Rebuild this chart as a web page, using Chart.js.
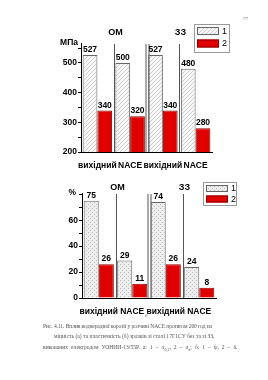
<!DOCTYPE html>
<html lang="uk">
<head>
<meta charset="UTF-8">
<title>NACE</title>
<style>
  body { margin: 0; background: #fff; }
  #page { position: relative; width: 268px; height: 380px; overflow: hidden; font-family: "Liberation Serif", serif; color: #555; }
  .box { position: absolute; left: 0; width: 268px; }
  .cap { position: absolute; white-space: nowrap; font-size: 5.6px; line-height: 7px; color: #555; }
</style>
</head>
<body>
<div id="page">
  <div class="cap" style="left:243px; top:15px; font-size:5px;">77</div>
  <div class="box" style="top:0; height:175px;"><canvas id="chartA" width="268" height="175"></canvas></div>
  <div class="cap" style="left:144px; top:162px; font-size:5px;">а</div>
  <div class="box" style="top:176px; height:145px;"><canvas id="chartB" width="268" height="145"></canvas></div>
  <div class="cap" style="left:145px; top:312px; font-size:5px;">б</div>
  <div class="cap" id="c1" style="left:43px; top:323px; letter-spacing:-0.1px;">Рис. 4.11. Вплив воднерадної корозії у розчині NACE протягом 200 год на</div>
  <div class="cap" id="c2" style="left:54px; top:333px;">міцність (а) та пластичність (б) зразків зі сталі 17Г1СУ без та зі ЗЗ,</div>
  <div class="cap" id="c3" style="left:43px; top:344px; word-spacing:1.6px;">виконаних електродом УОНИИ-13/55Р. а: 1 – σ<sub style="font-size:4px">0,2</sub>, 2 – σ<sub style="font-size:4px">в</sub>; б: 1 – ψ, 2 – δ.</div>
</div>

<script src="https://cdn.jsdelivr.net/npm/chart.js"></script>
<script>
// ---- data ----
const labels = ['вихідний', 'NACE', 'вихідний', 'NACE'];
const strength1 = [527, 500, 527, 480];   // а: 1
const strength2 = [340, 320, 340, 280];   // а: 2
const plastic1 = [75, 29, 74, 24];        // б: 1
const plastic2 = [26, 11, 26, 8];         // б: 2
const groupNames = ['ОМ', 'ЗЗ'];
const legendNames = ['1', '2'];

const FONT = "'Liberation Sans', Arial, sans-serif";
const RED = '#e10000';

function makePattern(kind) {
    const c = document.createElement('canvas');
    c.width = 4; c.height = 4;
    const g = c.getContext('2d');
    g.fillStyle = kind === 'diag' ? '#f7f7f7' : '#ededed';
    g.fillRect(0, 0, 4, 4);
    g.fillStyle = kind === 'diag' ? '#cfcfcf' : '#bdbdbd';
    if (kind === 'diag') {
        g.fillRect(3, 0, 1, 1); g.fillRect(2, 1, 1, 1); g.fillRect(1, 2, 1, 1); g.fillRect(0, 3, 1, 1);
    } else {
        g.fillRect(0, 0, 1, 1); g.fillRect(2, 2, 1, 1);
    }
    return g.createPattern(c, 'repeat');
}

// separators, group titles, value labels, legend, unit
function decorPlugin(opt) {
    return {
        id: 'decor',
        afterDatasetsDraw(chart) {
            const c = chart.ctx, x = chart.scales.x, a = chart.chartArea;
            c.save();
            // separators between categories
            c.strokeStyle = '#555';
            c.lineWidth = 1;
            for (let i = 1; i < labels.length; i++) {
                const bx = Math.round((x.getPixelForValue(i - 1) + x.getPixelForValue(i)) / 2) + 0.5;
                const offs = i === 2 ? [-1.5, 1.5] : [0];
                offs.forEach(o => {
                    c.beginPath();
                    c.moveTo(bx + o, a.bottom);
                    c.lineTo(bx + o, a.top + 1);
                    c.stroke();
                });
                if (i === 1 || i === 3) {
                    c.fillStyle = '#000';
                    c.font = 'bold 9px ' + FONT;
                    c.textAlign = 'center';
                    c.textBaseline = 'middle';
                    c.fillText(groupNames[i === 1 ? 0 : 1], bx + 1, a.top - opt.titleGap);
                }
            }
            // value labels
            c.fillStyle = '#000';
            c.font = 'bold 8.5px ' + FONT;
            c.textAlign = 'center';
            c.textBaseline = 'bottom';
            chart.data.datasets.forEach((ds, di) => {
                chart.getDatasetMeta(di).data.forEach((bar, k) => {
                    c.fillText(ds.data[k], bar.x, bar.y - 1);
                });
            });
            // unit
            c.font = 'bold 8.5px ' + FONT;
            c.textAlign = 'right';
            c.textBaseline = 'middle';
            c.fillText(opt.unit, opt.unitX, a.top);
            // legend
            const L = opt.legend;
            c.strokeStyle = '#999';
            c.strokeRect(L.x + 0.5, L.y + 0.5, L.w, L.h);
            chart.data.datasets.forEach((ds, di) => {
                const sy = L.y + L.pad + di * L.step;
                c.fillStyle = ds.backgroundColor;
                c.fillRect(L.x + 3, sy, L.sw, L.sh);
                c.strokeStyle = ds.borderColor;
                c.strokeRect(L.x + 3.5, sy + 0.5, L.sw - 1, L.sh - 1);
                c.fillStyle = '#000';
                c.font = '9px ' + FONT;
                c.textAlign = 'left';
                c.textBaseline = 'middle';
                c.fillText(legendNames[di], L.x + L.sw + 6, sy + L.sh / 2 + 0.5);
            });
            c.restore();
        }
    };
}

function build(id, d1, d2, pat, yMin, yMax, major, minor, padTop, padRight, yWidth, xHeight, opt) {
    const ticks = [];
    for (let v = yMin; v <= yMax; v += minor) ticks.push({ value: v });
    new Chart(document.getElementById(id), {
        type: 'bar',
        data: {
            labels: labels,
            datasets: [
                { data: d1, backgroundColor: makePattern(pat), borderColor: '#666', borderWidth: 1 },
                { data: d2, backgroundColor: RED, borderColor: '#8a0000', borderWidth: 1 }
            ]
        },
        options: {
            responsive: false,
            animation: false,
            events: [],
            layout: { padding: { top: padTop, right: padRight, left: 0, bottom: 0 } },
            datasets: { bar: { barPercentage: 1, categoryPercentage: 0.9 } },
            plugins: { legend: { display: false }, tooltip: { enabled: false } },
            scales: {
                x: {
                    afterFit(s) { s.height = xHeight; },
                    grid: { display: false },
                    border: { display: true, color: '#000', width: 1 },
                    ticks: {
                        color: '#000', padding: 1, maxRotation: 0, minRotation: 0, autoSkip: false,
                        font: { family: FONT, size: 8.5, weight: 'bold' }
                    }
                },
                y: {
                    min: yMin,
                    max: yMax,
                    afterFit(s) { s.width = yWidth; },
                    afterBuildTicks(s) { s.ticks = ticks.map(t => ({ value: t.value })); },
                    grid: { drawOnChartArea: false, drawTicks: true, tickLength: 3, color: '#000' },
                    border: { display: true, color: '#000', width: 1 },
                    ticks: {
                        color: '#000',
                        padding: 1,
                        autoSkip: false,
                        font: { family: FONT, size: 8.5, weight: 'bold' },
                        callback: v => (v % major === 0 && v <= yMax - minor / 2 ? v : '')
                    }
                }
            }
        },
        plugins: [decorPlugin(opt)]
    });
}

build('chartA', strength1, strength2, 'diag', 200, 567, 100, 50, 43, 56, 81, 23, {
    unit: 'МПа', unitX: 78, titleGap: 10,
    legend: { x: 194, y: 24, w: 35, h: 28, pad: 3, step: 12.5, sw: 22, sh: 8 }
});
build('chartB', plastic1, plastic2, 'dots', 0, 81, 20, 10, 17, 52, 82, 23, {
    unit: '%', unitX: 76, titleGap: 5,
    legend: { x: 203, y: 6, w: 33, h: 23, pad: 3, step: 10.5, sw: 22, sh: 7 }
});
</script>
</body>
</html>
